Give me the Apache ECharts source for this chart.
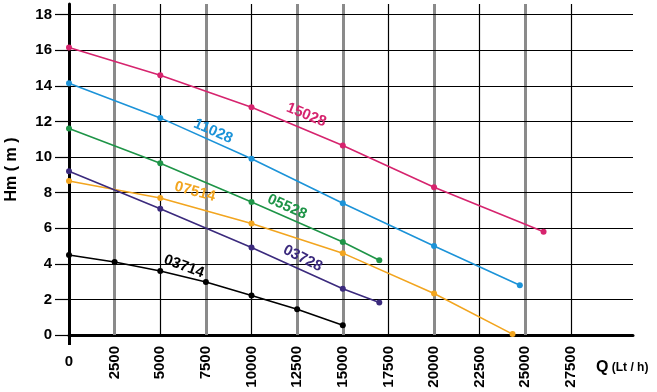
<!DOCTYPE html>
<html>
<head>
<meta charset="utf-8">
<script src="https://cdn.jsdelivr.net/npm/echarts@6/dist/echarts.min.js"></script>
<style>html,body{margin:0;padding:0;background:#fff;overflow:hidden;}#c{width:657px;height:392px;}</style>
</head>
<body>
<div id="c"></div>
<script>
// ---- data ----
const qMain = [0, 5000, 10000, 15000, 20000];
const h15028 = [16.15, 14.6, 12.8, 10.65, 8.3];
const end15028 = [26000, 5.8];
const h11028 = [14.15, 12.2, 9.9, 7.4, 5.0];
const end11028 = [24700, 2.8];
const h05528 = [11.6, 9.65, 7.47, 5.23];
const end05528 = [17000, 4.2];
const h07514 = [8.65, 7.7, 6.26, 4.6, 2.33];
const end07514 = [24300, 0.05];
const h03728 = [9.2, 7.1, 4.92, 2.6];
const end03728 = [17000, 1.83];
const q03714 = [0, 2500, 5000, 7500, 10000, 12500, 15000];
const h03714 = [4.5, 4.1, 3.6, 2.98, 2.22, 1.45, 0.55];
const seriesNames = ['15028', '11028', '05528', '07514', '03728', '03714'];
const xTickLabels = [0, 2500, 5000, 7500, 10000, 12500, 15000, 17500, 20000, 22500, 25000, 27500];
const yTickLabels = [0, 2, 4, 6, 8, 10, 12, 14, 16, 18];
const grayGridQ = [2500, 7500, 12500, 15000, 20000, 25000];
const blackGridQ = [5000, 10000, 17500, 22500, 27500];

function pts(xs, ys, end) {
  const out = xs.slice(0, ys.length).map((x, i) => [x, ys[i]]);
  if (end) out.push(end);
  return out;
}
const seriesData = [
  pts(qMain, h15028, end15028), pts(qMain, h11028, end11028), pts(qMain, h05528, end05528),
  pts(qMain, h07514, end07514), pts(qMain, h03728, end03728), pts(q03714, h03714, null)
];
const colors = ['#D6246E', '#1C93D8', '#1E9447', '#F2A51F', '#3B2A7D', '#000000'];
const labelAnchor = [[13000, 12.36], [7900, 11.45], [11950, 7.2], [6900, 8.05], [12800, 4.3], [6300, 3.85]];
const labelRotate = [-22, -24, -24, -15, -27, -20];
const FONT = '"Liberation Sans", Arial, Helvetica, sans-serif';
const chart = echarts.init(document.getElementById('c'), null, {renderer: 'canvas'});
function gridLines(key, values, color, width, z) {
  return {
    type: 'line', data: [], xAxisIndex: 0, silent: true, z: z,
    markLine: {silent: true, symbol: ['none', 'none'], animation: false, label: {show: false},
      emphasis: {disabled: true}, lineStyle: {color: color, width: width, type: 'solid'},
      data: values.map(v => ({[key]: v}))}
  };
}
const plain = v => String(v);
const option = {
  animation: false, backgroundColor: '#fff',
  grid: {left: 69, right: 24, top: 4, bottom: 57, containLabel: false, outerBoundsMode: 'none'},
  xAxis: [
    {type: 'value', min: 0, max: 30900, interval: 2500, position: 'bottom',
      axisLine: {show: true, onZero: true, lineStyle: {color: '#000', width: 3}},
      axisTick: {show: false},
      axisLabel: {rotate: 90, margin: 11, fontSize: 15, fontWeight: 'bold', color: '#000', fontFamily: FONT,
        customValues: xTickLabels.filter(v => v > 0), formatter: plain},
      splitLine: {show: false},
      name: '{q|Q} {u|(Lt / h)}', nameLocation: 'end', nameGap: -37,
      nameTextStyle: {verticalAlign: 'top', align: 'left', padding: [25, 0, 0, 0],
        rich: {q: {fontSize: 16, fontWeight: 'bold', fontFamily: FONT, color: '#000'},
               u: {fontSize: 12, fontWeight: 'bold', fontFamily: FONT, color: '#000'}}}},
    {type: 'value', min: 0, max: 30900, interval: 2500, position: 'bottom', gridIndex: 0,
      axisLine: {show: false},
      axisTick: {show: true, length: 10, customValues: [0], lineStyle: {color: '#000', width: 3}},
      axisLabel: {margin: 19, fontSize: 15, fontWeight: 'bold', color: '#000', fontFamily: FONT,
        customValues: [0], formatter: plain},
      splitLine: {show: false}}
  ],
  yAxis: {type: 'value', min: 0, max: 18.6, interval: 2,
    axisLine: {show: true, onZero: false, lineStyle: {color: '#000', width: 3}},
    axisTick: {show: true, length: 14, customValues: yTickLabels, lineStyle: {color: '#000', width: 1.2}},
    axisLabel: {margin: 17, fontSize: 15, fontWeight: 'bold', color: '#000', fontFamily: FONT,
      customValues: yTickLabels, formatter: plain},
    splitLine: {show: false},
    name: 'Hm ( m )', nameLocation: 'middle', nameRotate: 90, nameGap: 49,
    nameTextStyle: {fontSize: 16, fontWeight: 'bold', fontFamily: FONT, color: '#000'}},
  series: [
    gridLines('xAxis', grayGridQ, '#8a8a8a', 3, 1),
    gridLines('xAxis', blackGridQ, '#000000', 1.2, 1),
    gridLines('yAxis', yTickLabels.filter(v => v > 0), '#000000', 1.2, 2)
  ].concat(seriesNames.map((n, i) => ({
      name: n, type: 'line', xAxisIndex: 0, data: seriesData[i], symbol: 'circle', symbolSize: 6,
      lineStyle: {color: colors[i], width: 1.6}, itemStyle: {color: colors[i]}, z: 5,
      markPoint: {symbol: 'circle', symbolSize: 1, silent: true, itemStyle: {color: 'rgba(0,0,0,0)'},
        data: [{coord: labelAnchor[i], value: n, label: {show: true, position: 'inside', formatter: n,
          rotate: labelRotate[i], fontSize: 15, fontWeight: 'bold', fontFamily: FONT, color: colors[i]}}]}
    })))
};
chart.setOption(option);
</script>
</body>
</html>
